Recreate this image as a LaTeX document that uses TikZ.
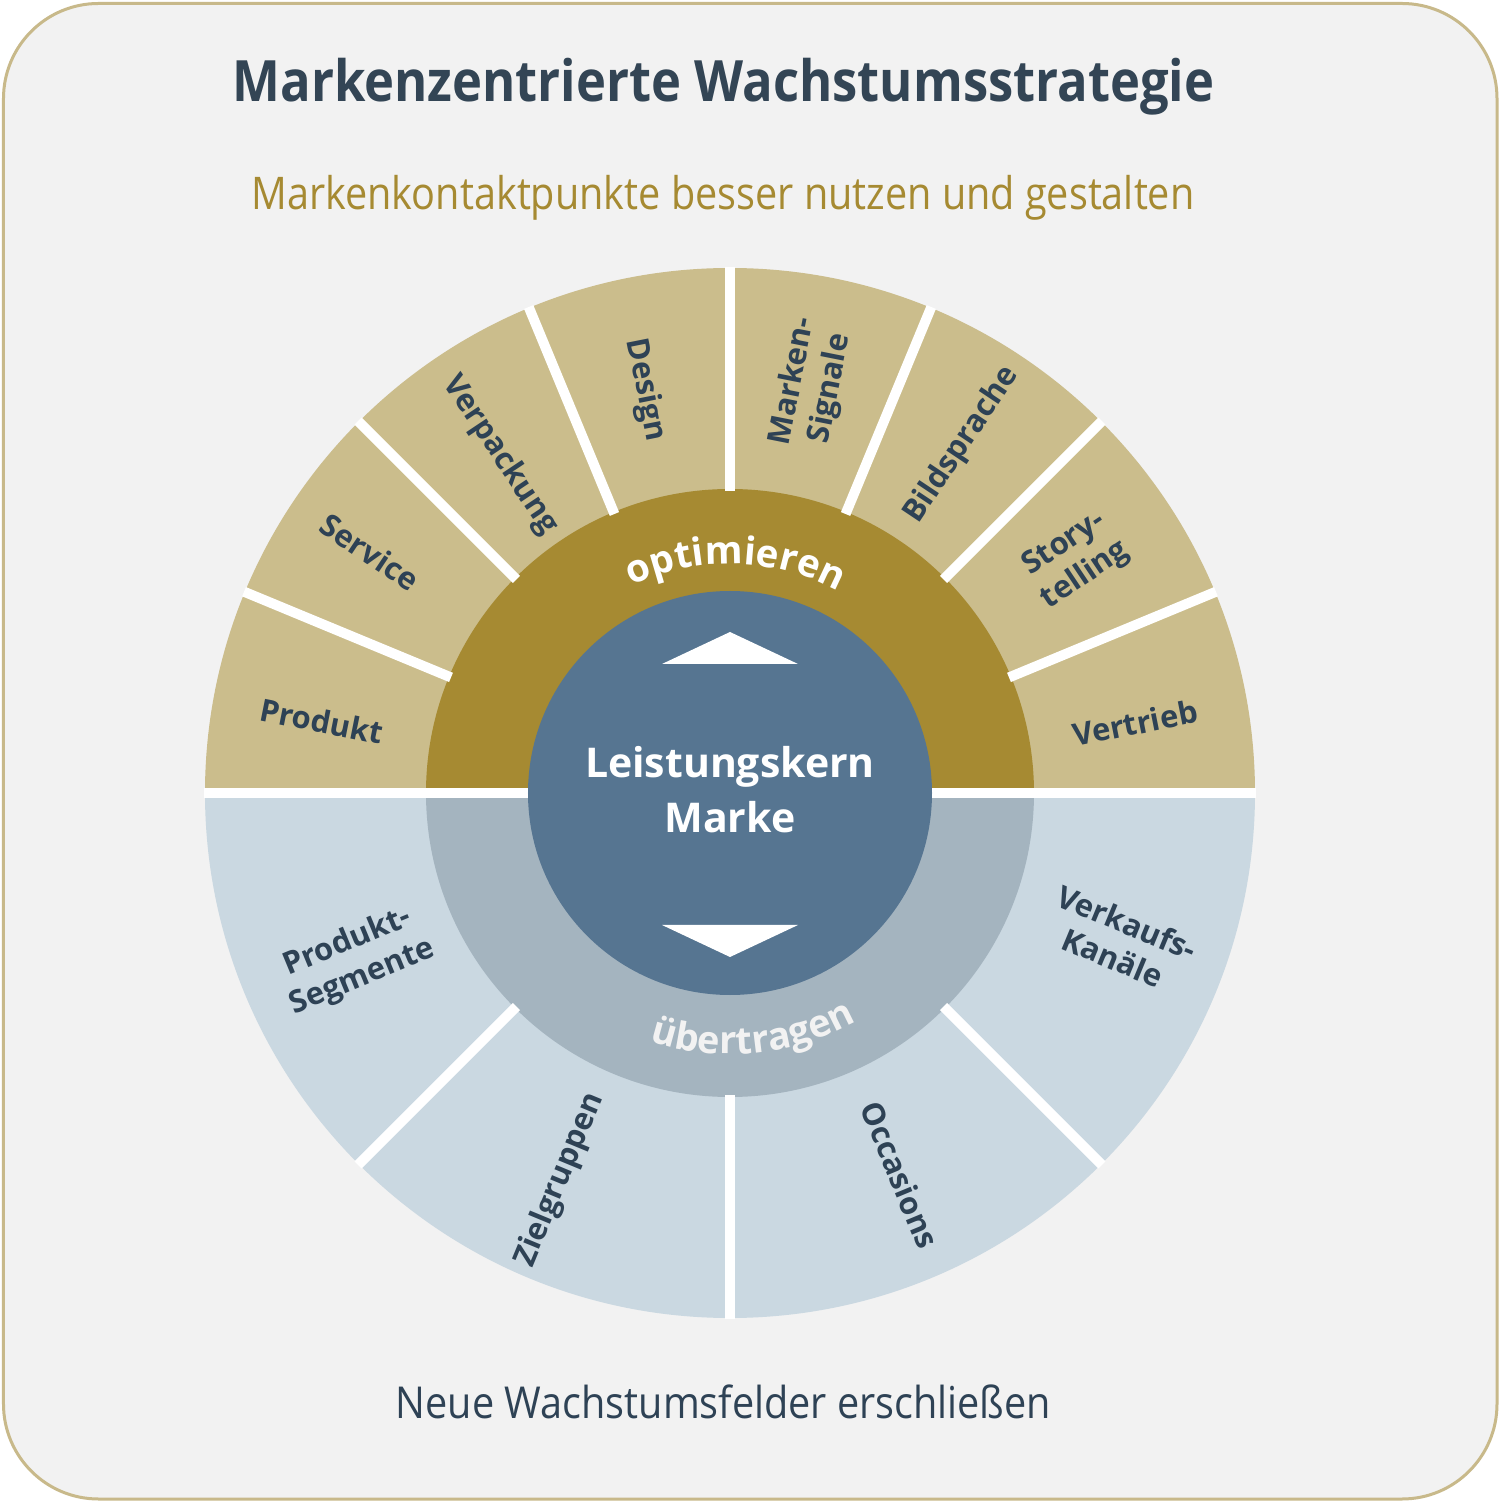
\documentclass[tikz,border=0pt]{standalone}
\usepackage{fontspec}
\setmainfont{Open Sans}
\newfontfamily\condsans{Open Sans}[FakeStretch=0.88]
\newfontfamily\condsansb{Open Sans}[FakeStretch=0.90]
\newfontfamily\titlesans{Open Sans}[FakeStretch=0.89]
\usetikzlibrary{decorations.text}
\definecolor{bgc}{HTML}{F2F2F2}
\definecolor{borderc}{HTML}{C8B98A}
\definecolor{titlec}{HTML}{334555}
\definecolor{txtc}{HTML}{2E4255}
\definecolor{goldc}{HTML}{A68A32}
\definecolor{tanc}{HTML}{CBBD8C}
\definecolor{lbluec}{HTML}{CAD8E1}
\definecolor{grayc}{HTML}{A4B4BF}
\definecolor{innerc}{HTML}{567591}
\tikzset{
  sepline/.style={white, line width=10pt},
  lbl/.style={font=\bfseries\fontsize{31}{38}\selectfont, text=txtc, align=center, inner sep=0pt},
}
\begin{document}
\begin{tikzpicture}[x=1pt,y=1pt]
\useasboundingbox (-730,-710) rectangle (770,793);
\fill[white] (-730,-710) rectangle (770,793);
\draw[borderc, line width=3pt, fill=bgc, rounded corners=95pt] (-726.5,-706) rectangle (767,789.5);
% outer ring halves
\fill[tanc] (0,0) -- (0:525) arc[start angle=0, end angle=180, radius=525] -- cycle;
\fill[lbluec] (0,0) -- (180:525) arc[start angle=180, end angle=360, radius=525] -- cycle;
% middle ring halves
\fill[goldc] (0,0) -- (0:304) arc[start angle=0, end angle=180, radius=304] -- cycle;
\fill[grayc] (0,0) -- (180:304) arc[start angle=180, end angle=360, radius=304] -- cycle;
% separators
\foreach \a in {22.5,45,67.5,90,112.5,135,157.5}
  \draw[sepline] (\a:302) -- (\a:526);
\foreach \a in {225,270,315}
  \draw[sepline] (\a:302) -- (\a:526);
\draw[sepline] (-526,0) -- (526,0);
% inner circle
\fill[innerc] (0,0) circle (202);
\fill[white] (0,161) -- (68,129) -- (-68,129) -- cycle;
\fill[white] (-68,-132) -- (68,-132) -- (0,-164) -- cycle;
\node[font=\bfseries\fontsize{41}{41}\selectfont, text=white, anchor=base, inner sep=0pt] (kern) at (0,15) {Leistungskern};
\node[font=\bfseries\fontsize{41}{41}\selectfont, text=white, anchor=base, inner sep=0pt] (marke) at (0,-40) {Marke};
% curved texts
\path[decorate, decoration={text along path, text align=center, text color=white,
  text={|\bfseries\fontsize{38.5}{38.5}\selectfont|optimieren}}]
  (158.5:229) arc[start angle=158.5, end angle=18.5, radius=229];
\path[decorate, decoration={text along path, text align=center, text color=bgc,
  text={|\bfseries\fontsize{38}{38}\selectfont|übertragen}}]
  (205.5:261) arc[start angle=205.5, end angle=345.5, radius=261];
% upper labels
\node[lbl, rotate=-11.25] (produkt) at (-408,72) {Produkt};
\node[lbl, rotate=-33.75] (service) at (-360,241) {Service};
\node[lbl, rotate=-56.25] (verpackung) at (-230,338) {Verpackung};
\node[lbl, rotate=-78.75] (design) at (-85,403) {Design};
\node[lbl, rotate=78.75] (signale) at (82,408) {Marken-\\Signale};
\node[lbl, rotate=56.25] (bild) at (232,348) {Bildsprache};
\node[lbl, rotate=33.75] (story) at (345,233) {Story-\\telling};
\node[lbl, rotate=11.25] (vertrieb) at (405,70) {Vertrieb};
% lower labels
\node[lbl, rotate=22.5] (segmente) at (-375,-167) {Produkt-\\Segmente};
\node[lbl, rotate=67.5] (ziel) at (-170,-387) {Zielgruppen};
\node[lbl, rotate=-67.5] (occ) at (170,-382) {Occasions};
\node[lbl, rotate=-22.5] (kanaele) at (390,-147) {Verkaufs-\\Kanäle};
% titles
\node[font=\titlesans\bfseries\fontsize{57}{60}\selectfont, text=titlec, anchor=base, inner sep=0pt] (title) at (-6.5,691) {Markenzentrierte Wachstumsstrategie};
\node[font=\condsans\fontsize{45}{48}\selectfont, text=goldc, anchor=base, inner sep=0pt] (subtitle) at (-7,583) {Markenkontaktpunkte besser nutzen und gestalten};
\node[font=\condsansb\fontsize{44}{46}\selectfont, text=txtc, anchor=base, inner sep=0pt] (bottom) at (-6.5,-625) {Neue Wachstumsfelder erschließen};
\end{tikzpicture}
\end{document}
